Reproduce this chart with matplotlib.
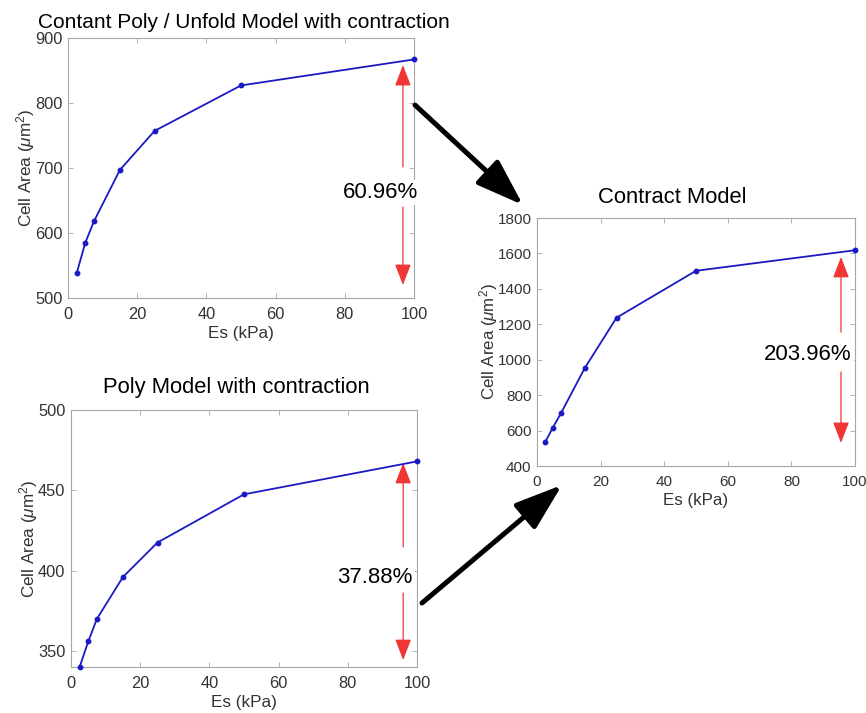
import matplotlib
matplotlib.use("Agg")
import matplotlib.pyplot as plt
from matplotlib.patches import FancyArrowPatch

plt.rcParams['font.family'] = ['Liberation Sans', 'DejaVu Sans']
plt.rcParams['mathtext.fontset'] = 'custom'
plt.rcParams['mathtext.rm'] = 'Liberation Sans'
plt.rcParams['mathtext.it'] = 'Liberation Sans:italic'

# ---------------- data ----------------
es = [2.5, 5, 7.5, 15, 25, 50, 100]
area_const_poly = [538, 585, 618, 697, 757, 827, 867]
area_contract = [533, 617, 697, 952, 1237, 1502, 1618]
area_poly = [340, 356, 370, 396, 417.5, 447.5, 468]

titles = ["Contant Poly / Unfold Model with contraction",
          "Contract Model",
          "Poly Model with contraction"]
pct_labels = ["60.96%", "203.96%", "37.88%"]
xticks = [0, 20, 40, 60, 80, 100]
yticks_tl = [500, 600, 700, 800, 900]
yticks_r = [400, 600, 800, 1000, 1200, 1400, 1600, 1800]
yticks_bl = [350, 400, 450, 500]

W, H = 866, 713
fig = plt.figure(figsize=(W / 100, H / 100), dpi=100)


def box(l, t, r, b):
    return [l / W, 1 - b / H, (r - l) / W, (b - t) / H]


LINE_C = '#1a1ac4'
RED = '#f03535'
SPINE = '#a6a6a6'
TICKC = '#333333'


def style(ax, yticks, ylim, tsize, lsize):
    ax.set_xlim(0, 100)
    ax.set_ylim(*ylim)
    ax.set_xticks(xticks)
    ax.set_yticks(yticks)
    for s in ax.spines.values():
        s.set_color(SPINE)
        s.set_linewidth(0.8)
    ax.tick_params(direction='in', top=True, right=True, length=3.5,
                   width=0.6, color=SPINE, labelcolor=TICKC, labelsize=tsize)
    ax.tick_params(axis='x', pad=6.5)
    ax.tick_params(axis='y', pad=4)
    ax.set_xlabel('Es (kPa)', fontsize=lsize, color=TICKC, labelpad=3)
    ax.set_ylabel('Cell Area ($\\mu$m$^2$)', fontsize=lsize, color=TICKC,
                  labelpad=-1.5)


def red_arrows(ax, x, top_tip, top_end, low_start, low_tip, label, tx, ty):
    kw = dict(arrowstyle='-|>,head_length=1.3,head_width=0.5',
              color=RED, lw=0.9, shrinkA=0, shrinkB=0, mutation_scale=10)
    ax.annotate('', xy=(x, top_tip), xytext=(x, top_end),
                xycoords='axes fraction', textcoords='axes fraction',
                arrowprops=kw, annotation_clip=False)
    ax.annotate('', xy=(x, low_tip), xytext=(x, low_start),
                xycoords='axes fraction', textcoords='axes fraction',
                arrowprops=kw, annotation_clip=False)
    ax.text(tx, ty, label, transform=ax.transAxes, ha='center', va='center',
            fontsize=16, color='black', zorder=5, clip_on=False,
            bbox=dict(facecolor='white', edgecolor='none', pad=1.5))


# top-left
ax1 = fig.add_axes(box(68, 38, 414, 298))
ax1.plot(es, area_const_poly, '-o', color=LINE_C, lw=1.3, ms=3.2,
         clip_on=False, zorder=4)
style(ax1, yticks_tl, (500, 900), 11.8, 12.3)
red_arrows(ax1, 0.968, 0.896, 0.504, 0.35, 0.05, pct_labels[0], 0.902, 0.404)

# right
ax2 = fig.add_axes(box(537, 218, 855, 466))
ax2.plot(es, area_contract, '-o', color=LINE_C, lw=1.3, ms=3.2,
         clip_on=False, zorder=4)
style(ax2, yticks_r, (400, 1800), 11, 12.2)
red_arrows(ax2, 0.956, 0.843, 0.540, 0.379, 0.093, pct_labels[1], 0.852, 0.448)

# bottom-left
ax3 = fig.add_axes(box(71, 410, 417, 667))
ax3.plot(es, area_poly, '-o', color=LINE_C, lw=1.3, ms=3.2,
         clip_on=False, zorder=4)
style(ax3, yticks_bl, (340, 500), 11.8, 12.3)
red_arrows(ax3, 0.96, 0.794, 0.467, 0.288, 0.027, pct_labels[2], 0.879, 0.35)

# titles
fig.text(244 / W, 1 - 28 / H, titles[0], ha='center', va='baseline',
         fontsize=15, color='black')
fig.text(672 / W, 1 - 203 / H, titles[1], ha='center', va='baseline',
         fontsize=15.8, color='black')
fig.text(236 / W, 1 - 393 / H, titles[2], ha='center', va='baseline',
         fontsize=15.8, color='black')


# black arrows between panels
def black_arrow(x0, y0, x1, y1):
    a = FancyArrowPatch((x0 / W, 1 - y0 / H), (x1 / W, 1 - y1 / H),
                        transform=fig.transFigure,
                        arrowstyle='-|>,head_length=2.9,head_width=1.0',
                        mutation_scale=10, color='black', lw=3.6,
                        shrinkA=0, shrinkB=0, zorder=10)
    fig.add_artist(a)


black_arrow(415, 105, 523, 205)
black_arrow(422, 603, 562, 485)

fig.savefig('out.png', dpi=100, facecolor='white')
